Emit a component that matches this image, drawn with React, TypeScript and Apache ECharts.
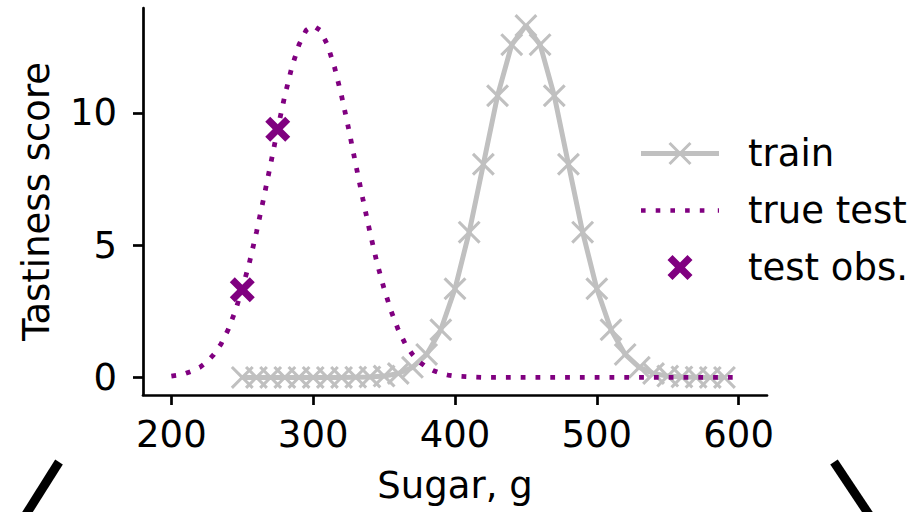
import React, { useEffect, useRef } from "react";
import * as echarts from "echarts";

// ---- data ----
const trainX = [250, 260, 270, 280, 290, 300, 310, 320, 330, 340, 350, 360, 370, 380, 390, 400, 410, 420, 430, 440, 450, 460, 470, 480, 490, 500, 510, 520, 530, 540, 550, 560, 570, 580, 590];
const trainY = [0.0, 0.0, 0.0, 0.0, 0.0, 0.0, 0.0, 0.0, 0.01, 0.02, 0.05, 0.15, 0.38, 0.87, 1.8, 3.35, 5.49, 8.06, 10.65, 12.58, 13.3, 12.58, 10.65, 8.06, 5.49, 3.35, 1.8, 0.87, 0.38, 0.15, 0.05, 0.02, 0.01, 0.0, 0.0];

const trueTestX = [200, 205, 210, 215, 220, 225, 230, 235, 240, 245, 250, 255, 260, 265, 270, 275, 280, 285, 290, 295, 300, 305, 310, 315, 320, 325, 330, 335, 340, 345, 350, 355, 360, 365, 370, 375, 380, 385, 390, 395, 400, 410, 420, 430, 440, 450, 460, 470, 480, 490, 500, 510, 520, 530, 540, 550, 560, 570, 580, 590, 600];
const trueTestY = [0.05, 0.09, 0.15, 0.25, 0.38, 0.58, 0.87, 1.26, 1.8, 2.5, 3.35, 4.33, 5.49, 6.75, 8.06, 9.4, 10.65, 11.74, 12.58, 13.12, 13.3, 13.12, 12.58, 11.74, 10.65, 9.4, 8.06, 6.75, 5.49, 4.33, 3.35, 2.5, 1.8, 1.26, 0.87, 0.58, 0.38, 0.25, 0.15, 0.09, 0.05, 0.02, 0.0, 0.0, 0.0, 0.0, 0.0, 0.0, 0.0, 0.0, 0.0, 0.0, 0.0, 0.0, 0.0, 0.0, 0.0, 0.0, 0.0, 0.0, 0.0];

const testObsX = [250, 275];
const testObsY = [3.31, 9.38];

const xTicks = [200, 300, 400, 500, 600];
const yTicks = [0, 5, 10];

const seriesNames = ["train", "true test", "test obs."];

// ---- styling ----
const GRAY = "#c0c0c0";
const PURPLE = "#800080";
const FONT = "DejaVu Sans";
const FS = 37;

function xPolygon(cx: number, cy: number, a: number, d: number): string {
  const p: [number, number][] = [
    [-a, -a + d], [-a + d, -a], [0, -d], [a - d, -a], [a, -a + d], [d, 0],
    [a, a - d], [a - d, a], [0, d], [-a + d, a], [-a, a - d], [-d, 0],
  ];
  return "M" + p.map(([x, y]) => `${(cx + x).toFixed(2)},${(cy + y).toFixed(2)}`).join(" L") + " Z";
}

const thinX = "path://" + xPolygon(10, 10, 10, 1.9);
const thickX = "path://" + xPolygon(10, 10, 10, 4.0);

const trainIcon = "path://M0,10 L78,10 L78,15 L0,15 Z " + xPolygon(39, 12.5, 11.5, 2.1);
const dottedIcon =
  "path://" +
  [0, 14.7, 29.4, 44.1, 58.8]
    .map((x) => `M${x},0 L${x + 4.6},0 L${x + 4.6},4.6 L${x},4.6 Z`)
    .join(" ") +
  " M76.8,0 L78,0 L78,4.6 L76.8,4.6 Z";
const obsIcon = "path://" + xPolygon(12.5, 12.5, 12.5, 5.0);

export default function App() {
  const ref = useRef<HTMLDivElement>(null);

  useEffect(() => {
    if (!ref.current) return;
    const chart = echarts.init(ref.current, undefined, { renderer: "svg" });

    const option: any = {
      animation: false,
      backgroundColor: "#ffffff",
      textStyle: { fontFamily: FONT },
      grid: { left: 143, right: 149, top: 8, bottom: 117, containLabel: false },
      legend: {
        orient: "vertical",
        left: 641,
        top: 135,
        padding: 0,
        itemWidth: 78,
        itemHeight: 25,
        itemGap: 20,
        itemStyle: { borderWidth: 0, opacity: 1 },
        textStyle: { fontSize: FS, color: "#000", fontFamily: FONT, padding: [0, 0, 0, 24] },
        data: [
          { name: seriesNames[0], icon: trainIcon },
          { name: seriesNames[1], icon: dottedIcon },
          { name: seriesNames[2], icon: obsIcon },
        ],
      },
      xAxis: {
        type: "value",
        min: 180,
        max: 620,
        name: "Sugar, g",
        nameLocation: "middle",
        nameGap: 72,
        nameTextStyle: { fontSize: FS, color: "#000", fontFamily: FONT },
        axisLine: { show: true, onZero: false, lineStyle: { color: "#000", width: 2.7 } },
        axisTick: { show: true, length: 10, customValues: xTicks, lineStyle: { color: "#000", width: 2.7 } },
        axisLabel: { customValues: xTicks, fontSize: FS, color: "#000", margin: 21, fontFamily: FONT },
        splitLine: { show: false },
      },
      yAxis: {
        type: "value",
        min: -0.665,
        max: 13.965,
        name: "Tastiness score",
        nameLocation: "middle",
        nameGap: 88,
        nameTextStyle: { fontSize: FS, color: "#000", fontFamily: FONT },
        axisLine: { show: true, onZero: false, lineStyle: { color: "#000", width: 2.7 } },
        axisTick: { show: true, length: 10, customValues: yTicks, lineStyle: { color: "#000", width: 2.7 } },
        axisLabel: { customValues: yTicks, fontSize: FS, color: "#000", margin: 26, fontFamily: FONT },
        splitLine: { show: false },
      },
      series: [
        {
          name: seriesNames[0],
          type: "line",
          data: trainX.map((x, i) => [x, trainY[i]]),
          color: GRAY,
          lineStyle: { color: GRAY, width: 5 },
          symbol: thinX,
          symbolSize: 23,
          showAllSymbol: true,
          itemStyle: { color: GRAY, borderWidth: 0, opacity: 1 },
          z: 2,
        },
        {
          name: seriesNames[1],
          type: "line",
          data: trueTestX.map((x, i) => [x, trueTestY[i]]),
          color: PURPLE,
          showSymbol: false,
          symbol: "none",
          lineStyle: { color: PURPLE, width: 4.8, type: [4.8, 10], cap: "butt" },
          itemStyle: { color: PURPLE },
          z: 3,
        },
        {
          name: seriesNames[2],
          type: "scatter",
          data: testObsX.map((x, i) => [x, testObsY[i]]),
          color: PURPLE,
          symbol: thickX,
          symbolSize: 25,
          itemStyle: { color: PURPLE, borderWidth: 0, opacity: 1 },
          z: 4,
        },
      ],
      graphic: [
        {
          type: "line",
          shape: { x1: 59, y1: 462, x2: 25, y2: 516 },
          style: { stroke: "#000", lineWidth: 9 },
          silent: true,
        },
        {
          type: "line",
          shape: { x1: 834, y1: 462, x2: 870, y2: 516 },
          style: { stroke: "#000", lineWidth: 9 },
          silent: true,
        },
      ],
    };

    chart.setOption(option);
    return () => chart.dispose();
  }, []);

  return (
    <div
      ref={ref}
      style={{ position: "fixed", left: 0, top: 0, width: 916, height: 512, background: "#fff" }}
    />
  );
}
